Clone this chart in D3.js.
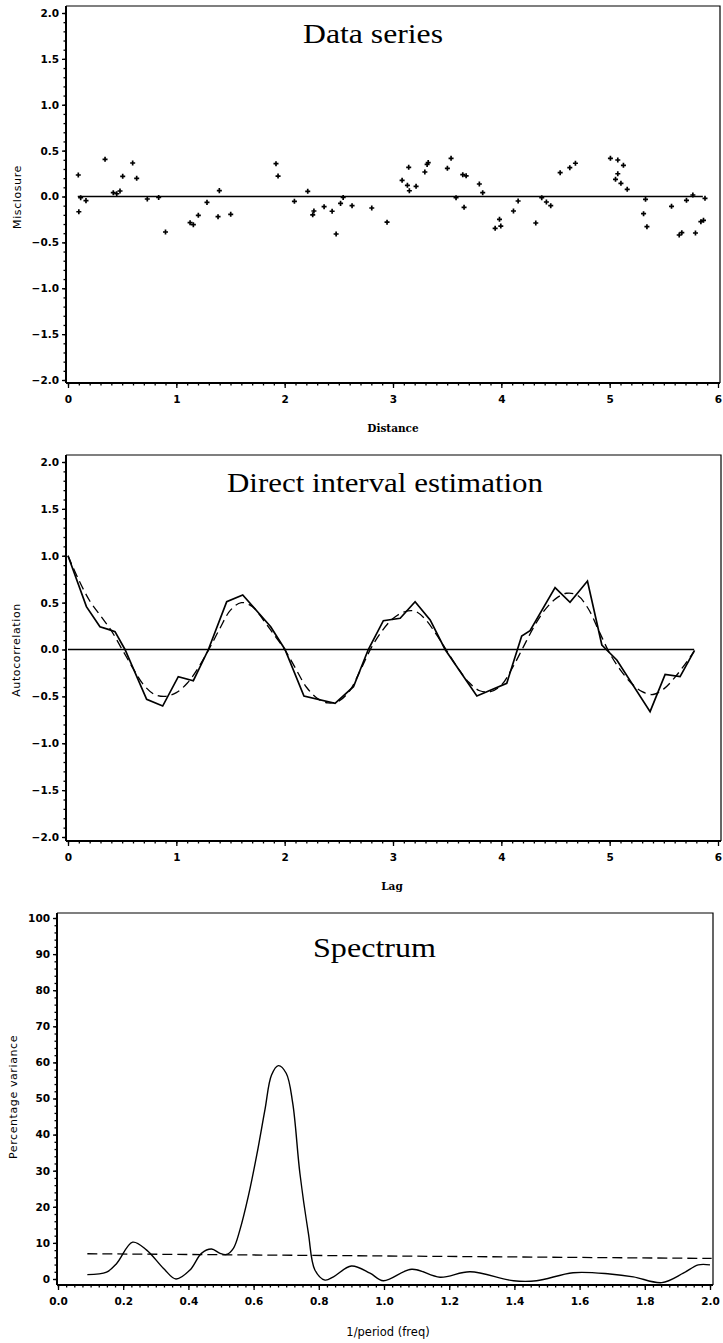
<!DOCTYPE html>
<html>
<head>
<meta charset="utf-8">
<script src="https://cdn.jsdelivr.net/npm/d3@7"></script>
<style>
  body { margin: 0; background: #fff; }
  svg { display: block; }
  .tick text { font-family: "DejaVu Sans", sans-serif; font-weight: bold; font-size: 10.5px; }
</style>
</head>
<body>
<script>
// ---- data: top panel (misclosure vs distance) ----
const distance = [0.095, 0.10, 0.117, 0.166, 0.342, 0.418, 0.45, 0.48, 0.505, 0.597, 0.634, 0.732, 0.837, 0.90,
  1.127, 1.157, 1.203, 1.283, 1.385, 1.397, 1.502, 1.92, 1.939, 2.09, 2.213, 2.259, 2.27, 2.364, 2.438, 2.475,
  2.516, 2.54, 2.622, 2.804, 2.945, 3.084, 3.133, 3.145, 3.151, 3.213, 3.294, 3.315, 3.325, 3.502, 3.536, 3.582,
  3.644, 3.675, 3.656, 3.797, 3.828, 3.943, 3.983, 3.995, 4.112, 4.155, 4.318, 4.373, 4.416, 4.456, 4.543, 4.632,
  4.684, 5.007, 5.075, 5.127, 5.075, 5.054, 5.104, 5.162, 5.331, 5.313, 5.344, 5.571, 5.642, 5.666, 5.709, 5.768,
  5.792, 5.842, 5.866, 5.88]
const misclosure = [0.234, -0.166, -0.013, -0.045, 0.405, 0.042, 0.03, 0.06, 0.22, 0.365, 0.198, -0.027, -0.01, -0.387,
  -0.285, -0.307, -0.205, -0.064, -0.22, 0.064, -0.194, 0.358, 0.223, -0.053, 0.056, -0.20, -0.158, -0.111, -0.161, -0.409,
  -0.075, -0.01, -0.10, -0.125, -0.28, 0.176, 0.122, 0.318, 0.063, 0.111, 0.267, 0.35, 0.37, 0.307, 0.416, -0.013,
  0.238, 0.225, -0.118, 0.136, 0.042, -0.347, -0.249, -0.322, -0.158, -0.049, -0.289, -0.013, -0.06, -0.10, 0.26, 0.314,
  0.362, 0.416, 0.398, 0.34, 0.248, 0.187, 0.144, 0.078, -0.031, -0.187, -0.329, -0.107, -0.42, -0.394, -0.042, 0.016,
  -0.398, -0.274, -0.26, -0.02]
const zeroLineTop = [0.09, 5.86]

// ---- data: middle panel (autocorrelation vs lag) ----
const lagDirect = [0, 0.17, 0.295, 0.372, 0.434, 0.526, 0.726, 0.874, 1.018, 1.157, 1.296, 1.465, 1.613, 1.871,
  2.003, 2.178, 2.465, 2.635, 2.772, 2.911, 3.066, 3.204, 3.343, 3.481, 3.774, 3.866, 4.05, 4.188, 4.265, 4.496,
  4.634, 4.795, 4.928, 5.066, 5.373, 5.512, 5.65, 5.783]
const acfDirect = [1.0, 0.457, 0.243, 0.215, 0.19, 0.0, -0.531, -0.603, -0.29, -0.333, 0.0, 0.51, 0.581, 0.243,
  0.0, -0.496, -0.574, -0.397, 0.0, 0.307, 0.333, 0.51, 0.315, 0.0, -0.496, -0.45, -0.36, 0.144, 0.2, 0.66,
  0.503, 0.73, 0.048, -0.112, -0.663, -0.265, -0.29, -0.01]
const lagSmooth = [0, 0.1, 0.2, 0.3, 0.4, 0.5, 0.6, 0.7, 0.8, 0.9, 1.0, 1.1, 1.2, 1.3, 1.4, 1.5, 1.6, 1.7, 1.8, 1.9,
  2.0, 2.1, 2.2, 2.3, 2.4, 2.5, 2.6, 2.7, 2.8, 2.9, 3.0, 3.1, 3.2, 3.3, 3.4, 3.5, 3.6, 3.7, 3.8, 3.9, 4.0, 4.1, 4.2,
  4.3, 4.4, 4.5, 4.6, 4.7, 4.8, 4.9, 5.0, 5.1, 5.2, 5.3, 5.4, 5.5, 5.6, 5.7, 5.78]
const acfSmooth = [1.0, 0.74, 0.52, 0.36, 0.2, 0.0, -0.2, -0.38, -0.48, -0.5, -0.46, -0.36, -0.2, 0.0, 0.22, 0.42,
  0.5, 0.46, 0.32, 0.16, 0.0, -0.2, -0.4, -0.52, -0.57, -0.55, -0.44, -0.22, 0.02, 0.2, 0.33, 0.4, 0.41, 0.32, 0.16,
  -0.02, -0.2, -0.35, -0.44, -0.45, -0.38, -0.2, 0.02, 0.24, 0.42, 0.54, 0.6, 0.58, 0.44, 0.2, -0.04, -0.22, -0.36,
  -0.45, -0.48, -0.42, -0.3, -0.15, -0.02]
const zeroLineMid = [0, 5.78]

// ---- data: bottom panel (spectrum) ----
const freq = [0.09, 0.149, 0.18, 0.229, 0.272, 0.323, 0.362, 0.405, 0.44, 0.471, 0.497, 0.517, 0.538, 0.558, 0.584,
  0.61, 0.635, 0.655, 0.676, 0.70, 0.72, 0.742, 0.768, 0.788, 0.819, 0.845, 0.90, 0.957, 0.998, 1.085, 1.172, 1.264,
  1.397, 1.468, 1.58, 1.693, 1.765, 1.852, 1.918, 1.964, 2.0]
const pctVariance = [1.2, 1.9, 4.3, 10.2, 8.0, 3.0, 0.0, 2.5, 7.1, 8.3, 7.1, 6.8, 8.5, 13.6, 23.0,
  34.5, 47.0, 56.5, 59.1, 57, 48.7, 29.3, 12.7, 2.5, -0.3, 0.6, 3.6, 1.6, -0.5, 2.7, 0.5, 2.0,
  -0.5, -0.5, 1.75, 1.4, 0.6, -1.0, 1.6, 3.9, 3.9]
const refFreq = [0.09, 2.005]
const refLevel = [7.0, 5.7]

const W = 723, H = 1343
const svg = d3.select("body").append("svg").attr("width", W).attr("height", H)

function panel(o) {
  const g = svg.append("g")
  const x = d3.scaleLinear().domain(o.xDomain).range(o.xRange)
  const y = d3.scaleLinear().domain(o.yDomain).range(o.yRange)
  const f = o.frame

  // thin top / right border
  g.append("path")
    .attr("d", `M ${f.left} ${f.top} H ${f.right} V ${f.bottom}`)
    .attr("fill", "none").attr("stroke", "#000").attr("stroke-width", 1.2)

  // minor ticks
  g.append("g").attr("transform", `translate(0 ${f.bottom})`)
    .call(d3.axisBottom(x).tickValues(o.xMinor).tickSize(2.5).tickFormat(""))
    .call(a => a.select(".domain").remove())
  g.append("g").attr("transform", `translate(${f.left} 0)`)
    .call(d3.axisLeft(y).tickValues(o.yMinor).tickSize(2.5).tickFormat(""))
    .call(a => a.select(".domain").remove())

  // major axes
  const xa = g.append("g").attr("transform", `translate(0 ${f.bottom})`)
    .call(d3.axisBottom(x).tickValues(o.xTicks).tickSize(5).tickPadding(8).tickSizeOuter(0).tickFormat(o.xFormat))
  xa.select(".domain").attr("d", `M ${f.left} 0 H ${f.right}`).attr("stroke-width", 2)
  const ya = g.append("g").attr("transform", `translate(${f.left} 0)`)
    .call(d3.axisLeft(y).tickValues(o.yTicks).tickSize(4).tickPadding(3).tickSizeOuter(0).tickFormat(o.yFormat))
  ya.select(".domain").attr("d", `M 0 ${f.top} V ${f.bottom}`).attr("stroke-width", 2)
  g.selectAll(".tick line").attr("stroke-width", 1.3)

  // panel title
  g.append("text")
    .attr("x", o.title.x).attr("y", o.title.y)
    .attr("font-family", "Liberation Serif, serif").attr("font-size", 27)
    .attr("textLength", o.title.w).attr("lengthAdjust", "spacingAndGlyphs")
    .text(o.title.text)

  // axis titles
  g.append("text")
    .attr("x", o.xLabel.x).attr("y", o.xLabel.y).attr("text-anchor", "middle")
    .attr("font-family", o.xLabel.font).attr("font-weight", o.xLabel.weight)
    .attr("font-size", o.xLabel.size)
    .text(o.xLabel.text)
  g.append("text")
    .attr("transform", `translate(${o.yLabel.x} ${o.yLabel.y}) rotate(-90)`)
    .attr("text-anchor", "middle")
    .attr("font-family", "DejaVu Sans, sans-serif").attr("font-size", 11)
    .attr("letter-spacing", 0.6)
    .text(o.yLabel.text)

  return { g, x, y }
}

const fmt1 = d3.format(".1f")
const fmtY = d => fmt1(d).replace("-", "\u2212")

// ---- top panel ----
const p1 = panel({
  xDomain: [0, 6], xRange: [68, 718],
  yDomain: [-2, 2], yRange: [380, 13],
  frame: { left: 66, top: 6, right: 720, bottom: 383 },
  xTicks: d3.range(0, 7), xMinor: d3.range(0, 60).map(i => i / 10), xFormat: d3.format("d"),
  yTicks: d3.range(-2, 2.01, 0.5), yMinor: d3.range(-20, 21).map(i => i / 10), yFormat: fmtY,
  title: { text: "Data series", x: 303, y: 43, w: 140 },
  xLabel: { text: "Distance", x: 393, y: 432, font: "DejaVu Serif, serif", weight: "bold", size: 10.5 },
  yLabel: { text: "Misclosure", x: 21, y: 197 }
})

p1.g.append("line")
  .attr("x1", p1.x(zeroLineTop[0])).attr("x2", p1.x(zeroLineTop[1]))
  .attr("y1", p1.y(0)).attr("y2", p1.y(0))
  .attr("stroke", "#000").attr("stroke-width", 1.3)

const plus = d3.symbol().type(d3.symbolCross).size(14)
p1.g.append("g")
  .selectAll("path")
  .data(distance.map((d, i) => [d, misclosure[i]]))
  .join("path")
  .attr("transform", d => `translate(${p1.x(d[0])} ${p1.y(d[1])})`)
  .attr("d", plus)
  .attr("fill", "#000")

// ---- middle panel ----
const p2 = panel({
  xDomain: [0, 6], xRange: [68, 718],
  yDomain: [-2, 2], yRange: [837, 462],
  frame: { left: 66, top: 455, right: 721, bottom: 841 },
  xTicks: d3.range(0, 7), xMinor: d3.range(0, 60).map(i => i / 10), xFormat: d3.format("d"),
  yTicks: d3.range(-2, 2.01, 0.5), yMinor: d3.range(-20, 21).map(i => i / 10), yFormat: fmtY,
  title: { text: "Direct interval estimation", x: 227, y: 492, w: 316 },
  xLabel: { text: "Lag", x: 392, y: 890, font: "DejaVu Serif, serif", weight: "bold", size: 10.5 },
  yLabel: { text: "Autocorrelation", x: 20, y: 650 }
})

p2.g.append("line")
  .attr("x1", p2.x(zeroLineMid[0])).attr("x2", p2.x(zeroLineMid[1]))
  .attr("y1", p2.y(0)).attr("y2", p2.y(0))
  .attr("stroke", "#000").attr("stroke-width", 1.3)

const line2 = d3.line().x(d => p2.x(d[0])).y(d => p2.y(d[1]))
p2.g.append("path")
  .datum(lagDirect.map((d, i) => [d, acfDirect[i]]))
  .attr("d", line2)
  .attr("fill", "none").attr("stroke", "#000").attr("stroke-width", 1.7)
p2.g.append("path")
  .datum(lagSmooth.map((d, i) => [d, acfSmooth[i]]))
  .attr("d", line2.curve(d3.curveCatmullRom))
  .attr("fill", "none").attr("stroke", "#000").attr("stroke-width", 1.3)
  .attr("stroke-dasharray", "9 5")

// ---- bottom panel ----
const p3 = panel({
  xDomain: [0, 2], xRange: [58, 710],
  yDomain: [0, 100], yRange: [1279, 918],
  frame: { left: 57, top: 913, right: 713, bottom: 1285 },
  xTicks: d3.range(0, 11).map(i => i / 5), xMinor: d3.range(0, 81).map(i => i / 40), xFormat: fmt1,
  yTicks: d3.range(0, 101, 10), yMinor: d3.range(0, 101, 2), yFormat: d3.format("d"),
  title: { text: "Spectrum", x: 313, y: 957, w: 123 },
  xLabel: { text: "1/period (freq)", x: 388, y: 1336, font: "DejaVu Sans, sans-serif", weight: "normal", size: 11.5 },
  yLabel: { text: "Percentage variance", x: 17, y: 1097 }
})

p3.g.append("line")
  .attr("x1", p3.x(refFreq[0])).attr("x2", p3.x(refFreq[1]))
  .attr("y1", p3.y(refLevel[0])).attr("y2", p3.y(refLevel[1]))
  .attr("stroke", "#000").attr("stroke-width", 1.3)
  .attr("stroke-dasharray", "10 5")

p3.g.append("path")
  .datum(freq.map((d, i) => [d, pctVariance[i]]))
  .attr("d", d3.line().x(d => p3.x(d[0])).y(d => p3.y(d[1])).curve(d3.curveCatmullRom))
  .attr("fill", "none").attr("stroke", "#000").attr("stroke-width", 1.4)
</script>
</body>
</html>
